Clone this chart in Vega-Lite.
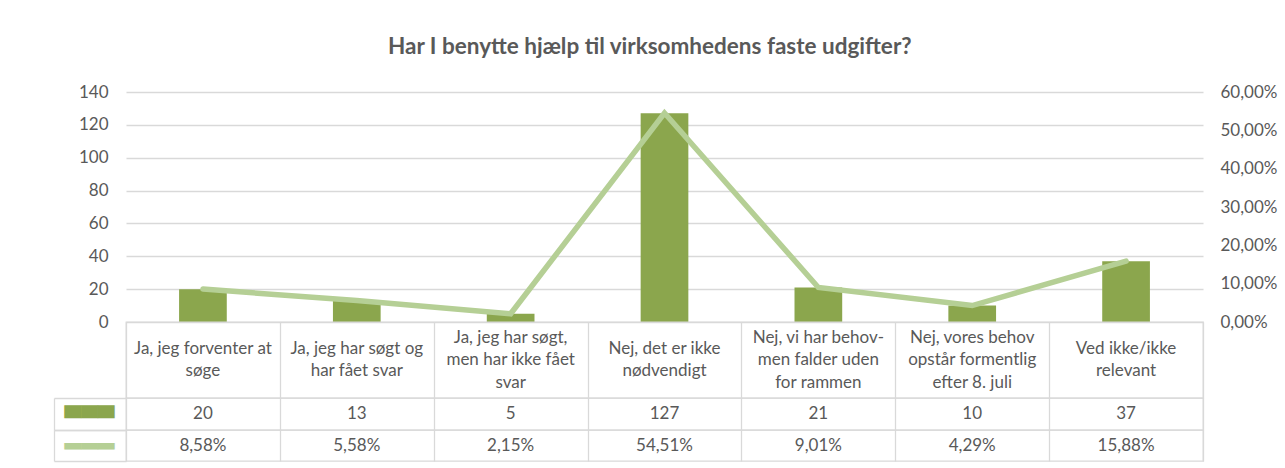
{
  "$schema": "https://vega.github.io/schema/vega-lite/v6.json",
  "background": "white",
  "padding": {"left": 52, "top": 35, "right": 16, "bottom": 6},
  "config": {
    "locale": {"number": {"decimal": ",", "thousands": ".", "grouping": [3], "currency": ["", " kr."]}},
    "font": "Lato",
    "view": {"stroke": null},
    "axis": {"labelFont": "Lato", "labelFontSize": 17, "labelColor": "#595959", "title": null},
    "scale": {"bandPaddingInner": 0, "bandPaddingOuter": 0}
  },
  "title": {"text": "Har I benytte hjælp til virksomhedens faste udgifter?", "font": "Lato", "fontSize": 22.5, "fontWeight": "bold", "color": "#595959", "anchor": "middle", "offset": 25, "dx": -15},
  "data": {"values": [
    {"kategori": "Ja, jeg forventer at\nsøge", "antal": 20, "andel": 0.0858},
    {"kategori": "Ja, jeg har søgt og\nhar fået svar", "antal": 13, "andel": 0.0558},
    {"kategori": "Ja, jeg har søgt,\nmen har ikke fået\nsvar", "antal": 5, "andel": 0.0215},
    {"kategori": "Nej, det er ikke\nnødvendigt", "antal": 127, "andel": 0.5451},
    {"kategori": "Nej, vi har behov-\nmen falder uden\nfor rammen", "antal": 21, "andel": 0.0901},
    {"kategori": "Nej, vores behov\nopstår formentlig\nefter 8. juli", "antal": 10, "andel": 0.0429},
    {"kategori": "Ved ikke/ikke\nrelevant", "antal": 37, "andel": 0.1588}
  ]},
  "spacing": 0,
  "bounds": "flush",
  "vconcat": [
    {
      "width": 1077, "height": 230,
      "encoding": {
        "x": {"field": "kategori", "type": "nominal", "sort": null, "axis": null, "scale": {"type": "band", "domain": ["Ja, jeg forventer at\nsøge", "Ja, jeg har søgt og\nhar fået svar", "Ja, jeg har søgt,\nmen har ikke fået\nsvar", "Nej, det er ikke\nnødvendigt", "Nej, vi har behov-\nmen falder uden\nfor rammen", "Nej, vores behov\nopstår formentlig\nefter 8. juli", "Ved ikke/ikke\nrelevant"]}}
      },
      "layer": [
        {
          "mark": {"type": "bar", "color": "#8BA64D", "width": {"band": 0.31}},
          "encoding": {
            "y": {"field": "antal", "type": "quantitative", "scale": {"domain": [0, 140]}, "axis": {"values": [0, 20, 40, 60, 80, 100, 120, 140], "grid": true, "gridColor": "#d9d9d9", "gridWidth": 1.3, "domain": false, "ticks": false, "labelPadding": 18}}
          }
        },
        {
          "mark": {"type": "line", "color": "#B5CF95", "strokeWidth": 5.5, "strokeCap": "round"},
          "encoding": {
            "y": {"field": "andel", "type": "quantitative", "scale": {"domain": [0, 0.6]}, "axis": {"orient": "right", "format": ".2%", "values": [0, 0.1, 0.2, 0.3, 0.4, 0.5, 0.6], "grid": false, "domain": false, "ticks": false, "labelPadding": 17}}
          }
        }
      ],
      "resolve": {"scale": {"y": "independent"}}
    },
    {
      "width": 1077, "height": 76,
      "view": {"stroke": "#d9d9d9", "strokeWidth": 1.3},
      "encoding": {
        "x": {"field": "kategori", "type": "nominal", "sort": null, "scale": {"type": "band", "domain": ["Ja, jeg forventer at\nsøge", "Ja, jeg har søgt og\nhar fået svar", "Ja, jeg har søgt,\nmen har ikke fået\nsvar", "Nej, det er ikke\nnødvendigt", "Nej, vi har behov-\nmen falder uden\nfor rammen", "Nej, vores behov\nopstår formentlig\nefter 8. juli", "Ved ikke/ikke\nrelevant"]}, "axis": {"labels": false, "ticks": false, "domain": false, "grid": true, "tickBand": "extent", "gridColor": "#d9d9d9", "gridWidth": 1.3}},
        "text": {"field": "kategori"}
      },
      "layer": [
        {
          "transform": [{"filter": "split(datum.kategori, '\\n').length == 2"}],
          "mark": {"type": "text", "lineBreak": "\n", "fontSize": 17, "color": "#595959", "lineHeight": 22.5, "dy": -11.25}
        },
        {
          "transform": [{"filter": "split(datum.kategori, '\\n').length == 3"}],
          "mark": {"type": "text", "lineBreak": "\n", "fontSize": 17, "color": "#595959", "lineHeight": 22.5, "dy": -22.5}
        }
      ]
    },
    {
      "width": 1077, "height": 32,
      "view": {"stroke": "#d9d9d9", "strokeWidth": 1.3},
      "mark": {"type": "text", "fontSize": 17, "color": "#595959"},
      "encoding": {
        "x": {"field": "kategori", "type": "nominal", "sort": null, "scale": {"type": "band", "domain": ["Ja, jeg forventer at\nsøge", "Ja, jeg har søgt og\nhar fået svar", "Ja, jeg har søgt,\nmen har ikke fået\nsvar", "Nej, det er ikke\nnødvendigt", "Nej, vi har behov-\nmen falder uden\nfor rammen", "Nej, vores behov\nopstår formentlig\nefter 8. juli", "Ved ikke/ikke\nrelevant"]}, "axis": {"labels": false, "ticks": false, "domain": false, "grid": true, "tickBand": "extent", "gridColor": "#d9d9d9", "gridWidth": 1.3}},
        "y": {"datum": "Antal", "type": "nominal", "scale": {"type": "band"}, "axis": {"offset": 72, "domain": true, "domainColor": "#d9d9d9", "domainWidth": 1.3, "ticks": true, "tickBand": "extent", "tickSize": -72, "tickColor": "#d9d9d9", "tickWidth": 1.3, "labelExpr": "datum.label ? '▄▄▄' : ''", "labelFont": "DejaVu Sans", "labelFontSize": 21.7, "labelColor": "#8BA64D", "labelPadding": 12, "labelOffset": -9}},
        "text": {"field": "antal", "type": "quantitative"}
      }
    },
    {
      "width": 1077, "height": 31,
      "view": {"stroke": "#d9d9d9", "strokeWidth": 1.3},
      "mark": {"type": "text", "fontSize": 17, "color": "#595959"},
      "encoding": {
        "x": {"field": "kategori", "type": "nominal", "sort": null, "scale": {"type": "band", "domain": ["Ja, jeg forventer at\nsøge", "Ja, jeg har søgt og\nhar fået svar", "Ja, jeg har søgt,\nmen har ikke fået\nsvar", "Nej, det er ikke\nnødvendigt", "Nej, vi har behov-\nmen falder uden\nfor rammen", "Nej, vores behov\nopstår formentlig\nefter 8. juli", "Ved ikke/ikke\nrelevant"]}, "axis": {"labels": false, "ticks": false, "domain": false, "grid": true, "tickBand": "extent", "gridColor": "#d9d9d9", "gridWidth": 1.3}},
        "y": {"datum": "Andel", "type": "nominal", "scale": {"type": "band"}, "axis": {"offset": 72, "domain": true, "domainColor": "#d9d9d9", "domainWidth": 1.3, "ticks": true, "tickBand": "extent", "tickSize": -72, "tickColor": "#d9d9d9", "tickWidth": 1.3, "labelExpr": "datum.label ? '▂▂▂' : ''", "labelFont": "DejaVu Sans", "labelFontSize": 21.7, "labelColor": "#B5CF95", "labelPadding": 12, "labelOffset": -9}},
        "text": {"field": "andel", "type": "quantitative", "format": ".2%"}
      }
    }
  ]
}
